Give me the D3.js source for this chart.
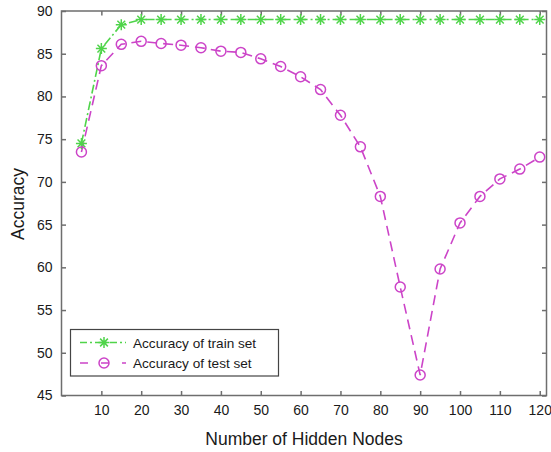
<!DOCTYPE html>
<html>
<head>
<meta charset="utf-8">
<script src="https://cdn.jsdelivr.net/npm/d3@7"></script>
<style>
  html, body { margin: 0; padding: 0; background: #fff; }
  svg { display: block; font-family: "Liberation Sans", Arial, Helvetica, sans-serif; }
</style>
</head>
<body>
<svg id="chart" width="551" height="452"></svg>
<script>
// Hidden-node counts tested
const hiddenNodes = [5, 10, 15, 20, 25, 30, 35, 40, 45, 50, 55, 60, 65, 70, 75, 80, 85, 90, 95, 100, 105, 110, 115, 120];
// Accuracy (%) on the training set
const trainAccuracy = [74.5, 85.6, 88.4, 89.0, 89.0, 89.0, 89.0, 89.0, 89.0, 89.0, 89.0, 89.0, 89.0, 89.0, 89.0, 89.0, 89.0, 89.0, 89.0, 89.0, 89.0, 89.0, 89.0, 89.0];
// Accuracy (%) on the test set
const testAccuracy = [73.5, 83.6, 86.1, 86.45, 86.2, 86.0, 85.7, 85.3, 85.15, 84.4, 83.5, 82.3, 80.8, 77.8, 74.1, 68.3, 57.7, 47.4, 59.8, 65.2, 68.3, 70.35, 71.5, 72.9];
const xTicks = [10, 20, 30, 40, 50, 60, 70, 80, 90, 100, 110, 120];
const yTicks = [45, 50, 55, 60, 65, 70, 75, 80, 85, 90];
const seriesNames = ["Accuracy of train set", "Accuracy of test set"];

const svg = d3.select("#chart");
const plotLeft = 61.5, plotRight = 546.5, plotTop = 11, plotBottom = 395.5;
const green = "#4fd44a", magenta = "#cc44c8", axisColor = "#6e6e6e";

const x = d3.scaleLinear().domain([0, 121.7]).range([plotLeft, plotRight]);
const y = d3.scaleLinear().domain([45, 90]).range([plotBottom, plotTop]);

// frame
svg.append("rect")
  .attr("x", plotLeft).attr("y", plotTop)
  .attr("width", plotRight - plotLeft).attr("height", plotBottom - plotTop)
  .attr("fill", "none").attr("stroke", axisColor).attr("stroke-width", 1.5);

const tickLen = 4.5;
// bottom axis with labels, ticks pointing inward
const bx = svg.append("g").attr("transform", `translate(0,${plotBottom})`)
  .call(d3.axisBottom(x).tickValues(xTicks).tickSizeInner(-tickLen).tickSizeOuter(0).tickPadding(10));
// left axis with labels
const lx = svg.append("g").attr("transform", `translate(${plotLeft},0)`)
  .call(d3.axisLeft(y).tickValues(yTicks).tickSizeInner(-tickLen).tickSizeOuter(0).tickPadding(9));
// mirrored ticks on top and right
const tx = svg.append("g").attr("transform", `translate(0,${plotTop})`)
  .call(d3.axisTop(x).tickValues(xTicks).tickSizeInner(-tickLen).tickSizeOuter(0).tickFormat(""));
const rx = svg.append("g").attr("transform", `translate(${plotRight},0)`)
  .call(d3.axisRight(y).tickValues(yTicks).tickSizeInner(-tickLen).tickSizeOuter(0).tickFormat(""));

[bx, lx, tx, rx].forEach(g => {
  g.select(".domain").remove();
  g.selectAll(".tick line").attr("stroke", axisColor).attr("stroke-width", 1.5);
  g.selectAll(".tick text").attr("fill", "#1a1a1a").style("font-size", "14px")
    .style("font-family", "'Liberation Sans', Arial, sans-serif");
});

// axis titles
svg.append("text")
  .attr("x", (205 + 403) / 2).attr("y", 445)
  .attr("text-anchor", "middle").attr("fill", "#1a1a1a")
  .style("font-size", "17.5px").text("Number of Hidden Nodes");
svg.append("text")
  .attr("transform", `translate(23.5,204) rotate(-90)`)
  .attr("text-anchor", "middle").attr("fill", "#1a1a1a")
  .style("font-size", "17.5px").text("Accuracy");

const trainData = hiddenNodes.map((n, i) => [n, trainAccuracy[i]]);
const testData = hiddenNodes.map((n, i) => [n, testAccuracy[i]]);
const line = d3.line().x(d => x(d[0])).y(d => y(d[1]));

const trainDash = "9,3,2,3";
const testDash = "10,6";

svg.append("path").datum(trainData).attr("d", line)
  .attr("fill", "none").attr("stroke", green).attr("stroke-width", 1.6)
  .attr("stroke-dasharray", trainDash);
svg.append("path").datum(testData).attr("d", line)
  .attr("fill", "none").attr("stroke", magenta).attr("stroke-width", 1.6)
  .attr("stroke-dasharray", testDash);

// asterisk marker: plus and cross combined
function star(g, cx, cy, r, color) {
  const s = r * Math.SQRT1_2;
  const p = `M${cx - r},${cy}L${cx + r},${cy}M${cx},${cy - r}L${cx},${cy + r}` +
            `M${cx - s},${cy - s}L${cx + s},${cy + s}M${cx - s},${cy + s}L${cx + s},${cy - s}`;
  g.append("path").attr("d", p).attr("stroke", color).attr("stroke-width", 1.5).attr("fill", "none");
}

const trainMarks = svg.append("g");
trainData.forEach(d => star(trainMarks, x(d[0]), y(d[1]), 5.5, green));

svg.append("g").selectAll("circle").data(testData).join("circle")
  .attr("cx", d => x(d[0])).attr("cy", d => y(d[1])).attr("r", 5)
  .attr("fill", "none").attr("stroke", magenta).attr("stroke-width", 1.5);

// legend
const lg = svg.append("g");
lg.append("rect").attr("x", 70.5).attr("y", 329.5).attr("width", 208).attr("height", 46.5)
  .attr("fill", "#fff").attr("stroke", "#444").attr("stroke-width", 1.2);
const legendRows = [
  { name: seriesNames[0], color: green, dash: trainDash, y: 342.5, kind: "star" },
  { name: seriesNames[1], color: magenta, dash: testDash, y: 363, kind: "circle" }
];
legendRows.forEach(r => {
  lg.append("line").attr("x1", 80).attr("x2", 126).attr("y1", r.y).attr("y2", r.y)
    .attr("stroke", r.color).attr("stroke-width", 1.6)
    .attr("stroke-dasharray", r.kind === "star" ? "7,3,2,3" : "8,13");
  if (r.kind === "star") star(lg, 104, r.y, 5.5, r.color);
  else lg.append("circle").attr("cx", 104).attr("cy", r.y).attr("r", 5)
    .attr("fill", "none").attr("stroke", r.color).attr("stroke-width", 1.5);
  lg.append("text").attr("x", 133).attr("y", r.y + 5).attr("fill", "#1a1a1a")
    .style("font-size", "13.6px").text(r.name);
});
</script>
</body>
</html>
